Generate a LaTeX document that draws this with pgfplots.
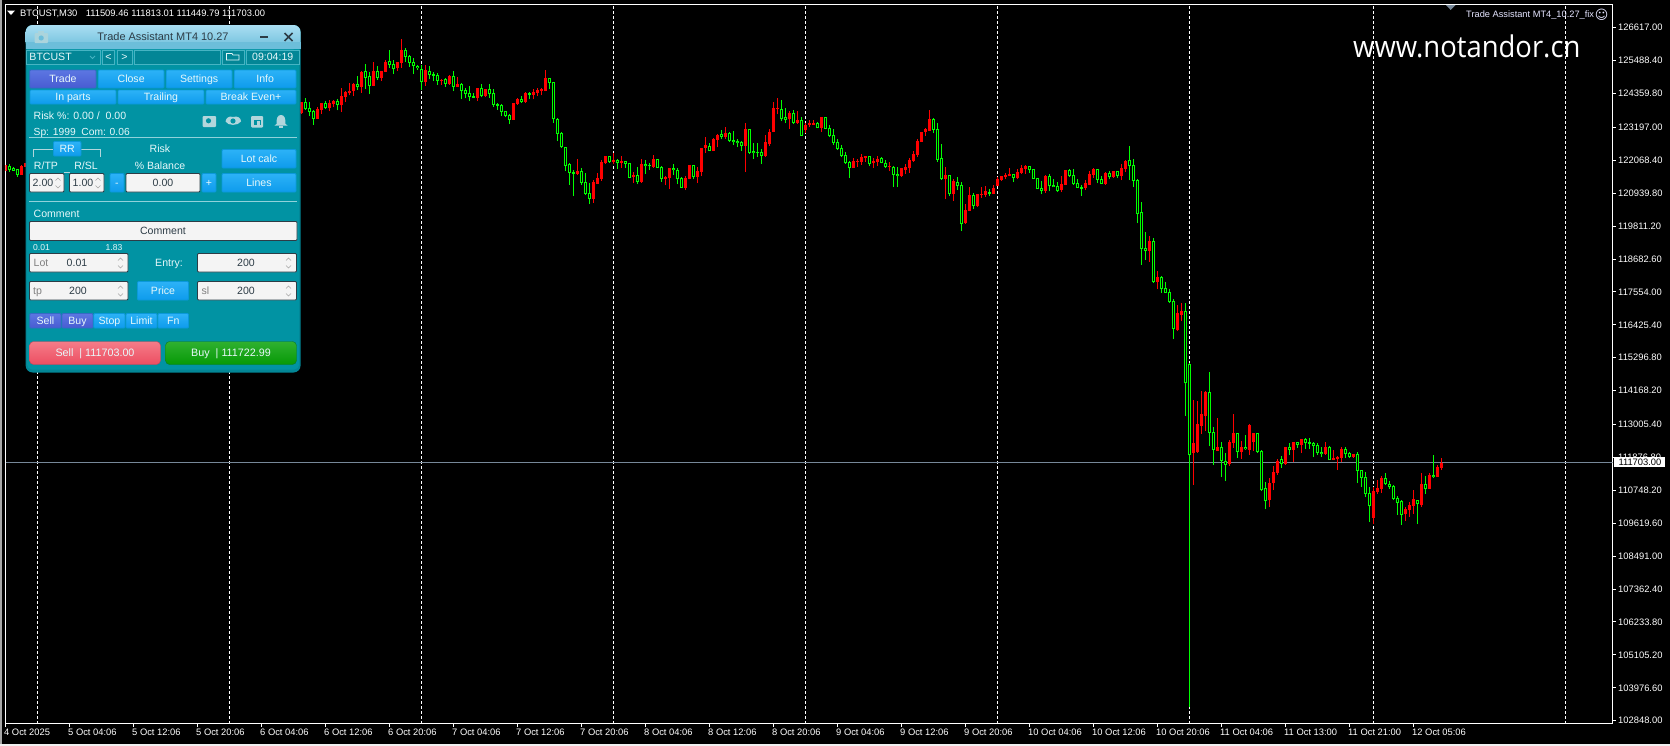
\documentclass[border=0pt]{standalone}
\usepackage{fontspec}
\usepackage{pgfplots}
\usepackage{pgfplotstable}
\pgfplotsset{compat=1.18}
\setmainfont{Liberation Sans}
\newfontfamily\wmfont{Open Sans}
\newfontfamily\dvfont{DejaVu Sans}
\newcommand{\fs}[1]{\fontsize{#1}{#1}\selectfont}

\definecolor{bull}{RGB}{255,0,0}
\definecolor{bear}{RGB}{0,255,0}
\definecolor{bidline}{RGB}{119,136,153}
\definecolor{teal1}{RGB}{1,147,163}
\definecolor{teal2}{RGB}{3,134,150}
\definecolor{teal3}{RGB}{70,180,195}
\definecolor{btnA}{RGB}{44,178,247}
\definecolor{btnB}{RGB}{14,155,236}
\definecolor{purA}{RGB}{92,118,226}
\definecolor{purB}{RGB}{72,92,210}
\definecolor{headA}{RGB}{170,222,242}
\definecolor{headB}{RGB}{108,190,218}
\definecolor{iconc}{RGB}{178,214,220}
\definecolor{fieldc}{RGB}{244,244,244}
\definecolor{edgec}{RGB}{45,60,70}
\definecolor{txtc}{RGB}{232,248,250}

% candles, price per bar: k high bodytop bodybottom low
\pgfplotstableread{
k high top bot low
1 121897 121897 121692 121692
5 121908 121873 121565 121565
6 121986 121986 121849 121849
75 124068 124068 123680 123657
79 123886 123817 123497 123497
80 124034 124023 123794 123657
82 124137 124034 123863 123760
83 124126 124103 124000 123886
85 124537 124274 123954 123725
86 124434 124411 124240 124068
87 124709 124446 124377 124297
88 124709 124686 124446 124274
90 125143 125097 124583 124389
93 125440 125132 124617 124617
95 125120 125120 124892 124789
96 125509 125440 125109 125097
99 125429 125429 125235 125132
100 126229 125852 125418 125246
106 125338 125166 124754 124629
110 124857 124823 124800 124652
112 124983 124960 124686 124663
114 124915 124674 124583 124583
119 124549 124537 124206 124103
121 124526 124503 124263 124240
128 124034 124023 123463 123463
129 124194 124160 124000 123966
131 124400 124366 124068 124034
133 124514 124411 124309 124160
134 124560 124480 124377 124274
135 124537 124503 124446 124297
136 125166 124892 124446 124446
144 122102 121702 121599 121576
148 121393 121313 120753 120616
149 121622 121450 121267 121256
150 122079 122010 121427 121370
151 122216 122216 121965 121942
153 122308 122090 122010 121942
155 122216 122045 121976 121805
158 121656 121565 121496 121302
160 122113 121953 121336 121302
163 122251 122113 121839 121816
166 121519 121485 121427 121210
167 121805 121805 121462 121084
171 121519 121462 121130 121050
172 121908 121908 121427 121427
174 121828 121702 121496 121290
175 122502 122491 121667 121519
176 122868 122594 122491 122319
178 122822 122788 122388 122388
179 122971 122937 122776 122514
181 123211 123005 122857 122799
186 123348 123142 122559 121667
191 122937 122696 122216 122182
192 123142 123039 122628 122559
193 124068 123863 123039 123039
194 124206 123863 123817 123657
197 123760 123691 123485 123142
199 123760 123451 123348 123314
201 123360 123280 123108 123005
202 123440 123348 123280 123211
203 123451 123348 123291 123280
205 123554 123554 123177 123039
213 122148 122045 121805 121805
214 122113 122045 122022 121850
215 122285 122182 122010 121908
216 122216 122205 122148 122010
218 122148 122045 121976 121805
219 122216 122113 122010 121873
222 122010 121873 121839 121702
225 121816 121805 121530 121496
226 121942 121839 121736 121599
227 122148 122079 121805 121633
228 122388 122285 122045 122010
229 122799 122731 122251 122182
230 123040 123040 122697 122697
231 123166 123132 123040 122902
232 123794 123485 123074 123074
236 121839 121565 121427 120741
238 121416 121359 120913 120673
241 120570 120364 119918 119884
242 121153 120879 120330 120330
244 120913 120913 120501 120467
245 121153 120913 120879 120776
246 121187 121016 120879 120810
248 121222 121119 120913 120913
249 121496 121427 121187 121187
250 121530 121530 121393 121359
251 121633 121565 121496 121427
252 121805 121599 121530 121530
254 121770 121667 121462 121427
255 121908 121805 121633 121599
256 121908 121873 121770 121599
261 121565 121530 121016 120947
265 121530 121256 121050 120981
266 121736 121736 121222 121222
271 121393 121290 121119 121050
272 121702 121599 121222 121222
273 121805 121770 121565 121462
276 121667 121633 121256 121222
278 121702 121702 121496 121462
280 121942 121805 121530 121393
281 122079 122045 121770 121667
287 119472 119301 118958 118581
289 118272 118066 117894 117654
294 117106 116831 116248 116214
295 117174 116900 116763 116557
298 113847 112361 112041 110943
299 113813 113024 112075 112041
300 114144 113367 112955 112681
301 114144 114121 113298 112784
304 113230 112224 112098 112098
307 112475 112406 111652 111583
308 113367 112704 112372 112201
310 112441 112235 112064 111823
312 113024 112990 112132 111961
313 112715 112715 112406 112098
317 111172 111000 110417 110177
318 111583 111378 111000 110760
319 111812 111755 111343 111275
321 112235 112235 111652 111618
323 112406 112406 112132 111720
325 112509 112509 112304 112029
331 112406 112235 111995 111961
333 112132 111869 111789 111789
334 111926 111892 111823 111446
335 112235 112166 111858 111720
338 111995 111995 111892 111858
343 110863 110726 109800 109594
344 111103 110829 110691 110623
345 111240 111172 110794 110657
351 110177 110108 109937 109697
352 110348 110246 110074 109834
353 110760 110451 110211 109937
355 111343 110966 110246 110177
357 111343 111275 110794 110794
359 111618 111549 111206 111206
360 111858 111703 111515 111446
}\upbars

\pgfplotstableread{
k high top bot low
2 121932 121884 121736 121668
3 121839 121794 121712 121702
4 121770 121770 121565 121506
76 124194 124068 123817 123794
77 124057 123851 123737 123588
78 123794 123748 123497 123280
81 124103 124023 123863 123840
84 124160 124091 123966 123783
89 124960 124674 124583 124480
91 125372 125120 124892 124514
92 125109 124960 124629 124343
94 125303 125120 124892 124823
97 125852 125463 125349 125235
98 125509 125372 125212 125029
101 125909 125852 125623 125440
102 125681 125646 125418 125280
103 125566 125429 125315 125029
104 125349 125315 125235 125166
105 125338 125189 124766 124480
107 125303 125120 125006 124846
108 125109 125029 124972 124789
109 125075 124995 124789 124652
111 124903 124846 124697 124594
113 125132 124949 124594 124446
115 124732 124674 124446 124171
116 124560 124469 124354 124194
117 124617 124366 124240 124114
118 124366 124274 124217 124206
120 124674 124537 124286 124229
122 124674 124503 124354 124206
123 124503 124366 123966 123897
124 124046 123988 123931 123805
125 123988 123954 123737 123588
126 123771 123748 123600 123543
127 123657 123611 123463 123314
130 124274 124160 124068 124046
132 124423 124366 124320 124183
137 124892 124880 124732 124514
138 124754 124743 123474 123360
139 123508 123474 122982 122731
140 123051 122994 122514 122491
141 122514 122514 121885 121702
142 121965 121931 121645 121222
143 121736 121656 121610 120844
145 121793 121690 121302 121222
146 121622 121313 120924 120879
147 121302 120936 120753 120570
152 122216 122205 122010 121988
154 122102 122068 121976 121770
156 122045 122033 121953 121805
157 121976 121965 121473 121462
159 121828 121553 121336 121256
161 122079 121942 121873 121599
162 121965 121908 121873 121736
164 122113 122102 121816 121805
165 121873 121839 121439 121325
168 121942 121805 121736 121565
169 121805 121736 121427 121256
170 121507 121462 121130 121119
173 121908 121896 121496 121427
177 122651 122559 122399 122388
180 123108 122971 122868 122799
182 123028 123005 122731 122696
183 123074 122765 122696 122594
184 122799 122731 122662 122525
185 122731 122696 122559 122388
187 123142 123131 122331 122285
188 122662 122388 122319 122113
189 122662 122365 122319 122182
190 122456 122353 122216 121942
195 124137 123828 123485 123417
196 123851 123554 123451 123348
198 123794 123691 123348 123314
200 123554 123451 122902 122902
204 123382 123348 123177 123165
206 123554 123543 123142 123142
207 123268 123177 122902 122868
208 123142 122937 122662 122594
209 122799 122696 122456 122422
210 122594 122491 122216 122182
211 122342 122251 121976 121942
212 122033 122010 121805 121462
217 122216 122216 121942 121873
220 122182 122148 121976 121965
221 122079 121976 121839 121805
223 121873 121828 121565 121153
224 121839 121599 121530 121153
233 123520 123485 123108 123005
234 123348 123142 122079 122010
235 122628 122136 121427 121393
237 121565 121553 120913 120844
239 121496 121324 121199 121050
240 121324 121222 119884 119644
243 120947 120879 120501 120398
247 121084 120981 120924 120844
253 121599 121587 121462 121324
257 121873 121862 121736 121633
258 121770 121759 121427 121427
259 121462 121450 121084 121084
260 121359 121119 121016 120913
262 121599 121530 121187 121016
263 121427 121222 121153 121153
264 121324 121187 121016 120981
267 121770 121736 121530 121496
268 121770 121565 121256 121222
269 121427 121290 121119 121119
270 121222 121153 121096 120844
274 121770 121759 121393 121290
275 121530 121427 121256 121256
277 121702 121633 121496 121427
279 121702 121702 121530 121462
282 122559 122079 121873 121393
283 122113 121908 121359 121153
284 121427 121393 120227 119918
285 120638 120295 119026 118478
286 119610 119061 118958 118649
288 119404 119301 117894 117860
290 118100 118066 117654 117517
291 117894 117689 117517 117517
292 117654 117552 117209 117174
293 117311 117243 116283 115939
296 117174 116900 114419 113310
297 115110 115082 111949 103307
302 114807 114110 112715 112269
303 112910 112738 112132 111618
305 112395 112224 111755 111206
306 112029 111755 111618 111069
309 112715 112704 112064 111858
311 112647 112235 112155 112132
314 112715 112704 112064 112029
315 112132 112086 110760 110726
316 111035 110817 110383 110108
320 111926 111823 111652 111515
322 112372 112235 112132 111961
324 112406 112395 112304 112201
326 112544 112509 112372 112166
327 112544 112406 112338 112166
328 112406 112372 112269 111892
329 112372 112304 112029 111961
330 112235 112064 111995 111892
332 112269 112235 111789 111789
336 112235 112166 111995 111858
337 112064 112029 111892 111858
339 112064 111995 111412 111000
340 111446 111446 111172 110863
341 111378 111206 110623 110520
342 110863 110657 110211 109663
346 111343 111172 110966 110932
347 111069 110966 110863 110794
348 110932 110897 110451 110417
349 110554 110486 110314 109903
350 110417 110383 109903 109560
354 110417 110417 110280 109594
356 111240 110966 110794 110623
358 111961 111275 111206 111172
}\bearbars

% vertical segment from one column up by a second expression
\pgfplotsset{
  seg/.style 2 args={draw=none, mark=none, forget plot,
    error bars/.cd, y dir=plus, y explicit, error mark=none,
    error bar style={draw=#1, solid, line width=#2}},
}

% panel helpers, in picture pixels
\tikzset{lb/.style={inner sep=0pt, text height=7.6bp, text depth=0pt, text=txtc, font=\fs{10.6}}}
\newcommand{\btn}[7]{%
  \shade[top color=#6, bottom color=#7, draw=#7!75!teal1, line width=.8bp, rounded corners=1bp] (#1,#2) rectangle (#3,#4);
  \node[lb] at ({(#1+#3)/2},{(#2+#4)/2}) {#5};}
\newcommand{\field}[4]{%
  \draw[fill=fieldc, draw=edgec, line width=.9bp, rounded corners=1bp] (#1,#2) rectangle (#3,#4);}
\newcommand{\spin}[2]{%
  \draw[gray!70, line width=.7bp] (#1-2.5,#2-2.5) -- (#1,#2-5) -- (#1+2.5,#2-2.5);
  \draw[gray!70, line width=.7bp] (#1-2.5,#2+2.5) -- (#1,#2+5) -- (#1+2.5,#2+2.5);}
\newcommand{\dk}[3]{\node[lb, text=edgec] at (#1,#2) {#3};}
\newcommand{\lt}[3]{\node[lb, anchor=base west, text depth=0pt] at (#1,#2) {#3};}

\begin{document}
\begin{tikzpicture}
\fill[black, use as bounding box] (0,0) rectangle (1670bp,-746bp);
\begin{axis}[
  at={(5.5bp,-723.5bp)}, anchor=south west,
  scale only axis, width=1607bp, height=719bp,
  xmin=1, xmax=402.75, ymin=102751, ymax=127413,
  axis background/.style={fill=black},
  axis line style={white, line width=1bp},
  tick style={white, line width=1bp},
  major tick length=3bp,
  tick align=outside,
  xtick pos=bottom, ytick pos=right,
  font=\fs{9.4},
  /pgf/number format/assume math mode=true,
  xtick={1,17,33,49,65,81,97,113,129,145,161,177,193,209,225,241,257,273,289,305,321,337,353},
  xticklabels={4 Oct 2025,5 Oct 04:06,5 Oct 12:06,5 Oct 20:06,6 Oct 04:06,6 Oct 12:06,6 Oct 20:06,
    7 Oct 04:06,7 Oct 12:06,7 Oct 20:06,8 Oct 04:06,8 Oct 12:06,8 Oct 20:06,9 Oct 04:06,9 Oct 12:06,
    9 Oct 20:06,10 Oct 04:06,10 Oct 12:06,10 Oct 20:06,11 Oct 04:06,11 Oct 13:00,11 Oct 21:00,12 Oct 05:06},
  xticklabel style={white, anchor=north west, inner sep=0pt, xshift=-1.5bp, yshift=-2.5bp},
  ytick={126617,125488.4,124359.8,123197,122068.4,120939.8,119811.2,118682.6,117554,116425.4,115296.8,114168.2,113005.4,111876.8,110748.2,109619.6,108491,107362.4,106233.8,105105.2,103976.6,102848},
  yticklabel style={white, anchor=west, inner sep=0pt, xshift=2.5bp,
    /pgf/number format/.cd, fixed, fixed zerofill, precision=2, 1000 sep={}},
  scaled y ticks=false,
  extra x ticks={9,57,105,153,201,249,297,343,391},
  extra x tick labels={},
  extra x tick style={grid=major, major tick length=0pt,
    major grid style={white, line width=1bp, dash pattern=on 3bp off 2bp}},
]
\addplot[bidline, line width=1bp, forget plot] coordinates {(1,111703)(402.75,111703)};
% bull candles, solid
\addplot[seg={bull}{1bp}] table[x=k, y=low, y error expr=\thisrow{high}-\thisrow{low}] {\upbars};
\addplot[seg={bull}{3bp}] table[x=k, y=bot, y error expr=\thisrow{top}-\thisrow{bot}] {\upbars};
% bear candles, outlined
\addplot[seg={bear}{1bp}] table[x=k, y=low, y error expr=\thisrow{high}-\thisrow{low}] {\bearbars};
\addplot[seg={bear}{3bp}] table[x=k, y=bot, y error expr=\thisrow{top}-\thisrow{bot}] {\bearbars};
\addplot[seg={black}{1bp}] table[x=k, y expr=\thisrow{bot}+34.3, y error expr={max(\thisrow{top}-\thisrow{bot}-68.6,0)}] {\bearbars};
\end{axis}

\begin{scope}[x=1bp, y=-1bp]
% window edge
\fill[gray!70] (0,0) rectangle (1.6,746);
\fill[white!94!black] (0,743.7) rectangle (1670,746);
% chart labels
\fill[white] (7,10.5) -- (15,10.5) -- (11,15) -- cycle;
\node[anchor=base west, inner sep=0pt, white, font=\fs{9.4}] at (20,16.2) {BTCUST,M30};
\node[anchor=base west, inner sep=0pt, white, font=\fs{9.4}] at (85.6,16.2) {111509.46 111813.01 111449.79 111703.00};
\fill[bidline] (1446,5) -- (1455.5,5) -- (1450.7,10) -- cycle;
\node[anchor=base west, inner sep=0pt, text=blue!10!white, font=\fs{9.3}] at (1466,17.6) {Trade Assistant MT4\_10.27\_fix};
\node[inner sep=0pt, text=blue!10!white, font=\dvfont\fs{13}] at (1601.5,14.5) {☺};
\node[anchor=base west, inner sep=0pt, white, xscale=.918, font=\wmfont\fs{30}] at (1353,57) {www.notandor.cn};
% bid price box
\fill[white] (1614,456.7) rectangle (1665,466.7);
\node[anchor=west, inner sep=0pt, black, font=\fs{9.4}] at (1618.3,461.8) {111703.00};

% panel
\fill[teal2, rounded corners=7bp] (25.6,25) rectangle (300.6,372.5);
\fill[teal1, rounded corners=5bp] (27,40) rectangle (299.2,369.5);
\shade[top color=headA, bottom color=headB, rounded corners=7bp] (25.6,25) rectangle (300.6,49);
\fill[headB] (25.6,42) rectangle (300.6,49);
% title bar
\fill[iconc!90!headB, rounded corners=1bp] (34.5,33) rectangle (48,43);
\fill[iconc!90!headB] (38,31) rectangle (44,34);
\fill[headB] (41.2,38) circle (2.6);
\node[lb, text=edgec, font=\fs{11}] at (163,37) {Trade Assistant MT4 10.27};
\fill[edgec] (260,36) rectangle (268,38);
\draw[edgec, line width=1.5bp] (284.5,33) -- (292.5,41) (292.5,33) -- (284.5,41);
% second row
\draw[fill=teal2, draw=teal3, line width=.7bp] (26.5,50.5) rectangle (100,64);
\node[lb, anchor=base west] at (29.3,60.4) {BTCUST};
\draw[teal3, line width=.8bp] (90,56) -- (92.5,58.5) -- (95,56);
\draw[fill=teal2, draw=teal3, line width=.7bp] (102.5,50.5) rectangle (114.5,64);
\node[lb] at (108.5,57) {<};
\draw[fill=teal2, draw=teal3, line width=.7bp] (117.5,50.5) rectangle (132,64);
\node[lb] at (124.5,57) {>};
\draw[fill=teal2, draw=teal3, line width=.7bp] (134.5,50.5) rectangle (220,64);
\draw[fill=teal2, draw=teal3, line width=.7bp] (222.5,50.5) rectangle (244,64);
\draw[txtc, line width=.7bp] (226.5,60) -- (226.5,53.5) -- (232,53.5) -- (233,55) -- (239,55) -- (239,60) -- cycle;
\draw[fill=teal2, draw=teal3, line width=.7bp] (246.5,50.5) rectangle (299,64);
\node[lb] at (272.7,57) {09:04:19};
% tabs
\btn{29.8}{70}{96}{88}{Trade}{purA}{purB}
\btn{98.3}{70}{164}{88}{Close}{btnA}{btnB}
\btn{166.3}{70}{232}{88}{Settings}{btnA}{btnB}
\btn{234.3}{70}{296}{88}{Info}{btnA}{btnB}
\btn{30}{90}{116}{104}{In parts}{btnA}{btnB}
\btn{118}{90}{204}{104}{Trailing}{btnA}{btnB}
\btn{206}{90}{296}{104}{Break Even+}{btnA}{btnB}
% risk lines
\lt{33.5}{119}{Risk \%: 0.00 /\ \ 0.00}
\lt{33.5}{135}{\fs{10.3}Sp: 1999\ \ Com: 0.06}
% icons
\fill[iconc, rounded corners=1bp] (202.5,116) rectangle (216,127);
\fill[teal1] (208.5,120.8) circle (2.6);
\fill[iconc] (233,117) .. controls (238,115.5) and (241,118) .. (241,121.5) .. controls (238,126) and (228,126) .. (225.5,121.5) .. controls (226,118) and (229,115.5) .. (233,117);
\fill[teal1] (233,121) circle (2.6);
\fill[iconc, rounded corners=1bp] (251,116) rectangle (263,127.5);
\fill[teal1] (253.5,119.5) rectangle (260.5,125);
\fill[iconc] (256.5,121) rectangle (260,124.5);
\fill[iconc] (281,115) .. controls (284.5,115) and (285.5,118) .. (285.5,124) -- (287.5,125.5) -- (274.5,125.5) -- (276.5,124) .. controls (276.5,118) and (277.5,115) .. (281,115);
\fill[iconc] (279,126) rectangle (283,128);
\draw[teal3!60!white, line width=.8bp] (29,137.5) -- (297,137.5);
% RR block
\draw[iconc, line width=.7bp] (33.5,156.5) -- (33.5,149.5) -- (53,149.5) (81,149.5) -- (100.5,149.5) -- (100.5,156.5);
\btn{53.5}{141.5}{81}{156}{RR}{btnA}{btnB}
\node[lb] at (46,165.5) {R/TP};
\node[lb] at (86,165.5) {R/SL};
\draw[iconc, line width=.7bp] (64,172.5) -- (70,172.5);
\node[lb] at (160,149) {Risk};
\node[lb] at (160,165.5) {\% Balance};
\field{29.5}{173.5}{64}{192}
\dk{43}{183}{2.00}
\spin{58}{183}
\field{69.5}{173.5}{104}{192}
\dk{83}{183}{1.00}
\spin{98}{183}
\btn{110}{173.5}{124}{192}{-}{btnA}{btnB}
\field{126}{173.5}{200}{192}
\dk{163}{183}{0.00}
\btn{202}{173.5}{216}{192}{+}{btnA}{btnB}
\btn{222}{149.5}{296}{168}{Lot calc}{btnA}{btnB}
\btn{222}{173.5}{296}{192}{Lines}{btnA}{btnB}
\draw[teal3!60!white, line width=.8bp] (29,201.5) -- (297,201.5);
% entry block
\lt{33.5}{217}{Comment}
\field{29.5}{221.5}{297}{240.5}
\dk{163}{231}{Comment}
\node[lb, font=\fs{8.6}] at (41.5,246.8) {0.01};
\node[lb, font=\fs{8.6}] at (114,246.8) {1.83};
\field{29.5}{253.5}{128}{272}
\node[lb, text=gray] at (41,262.5) {Lot};
\dk{77}{263}{0.01}
\spin{120.5}{263}
\node[lb] at (169,263) {Entry:};
\field{197.5}{253.5}{296.5}{272}
\dk{246}{263}{200}
\spin{288.5}{263}
\field{29.5}{281.5}{128}{300}
\node[lb, text=gray] at (37.5,291) {tp};
\dk{78}{291}{200}
\spin{120.5}{291}
\btn{137.5}{281.5}{188.5}{300}{Price}{btnA}{btnB}
\field{197.5}{281.5}{296.5}{300}
\node[lb, text=gray] at (205.5,291) {sl};
\dk{246}{291}{200}
\spin{288.5}{291}
% order mode row
\btn{29.8}{313.5}{61}{328}{Sell}{purA}{purB}
\btn{62}{313.5}{93}{328}{Buy}{purA}{purB}
\btn{93.8}{313.5}{125}{328}{Stop}{btnA}{btnB}
\btn{126}{313.5}{157}{328}{Limit}{btnA}{btnB}
\btn{158}{313.5}{188.5}{328}{Fn}{btnA}{btnB}
% order buttons
\shade[top color={rgb,255:red,245;green,124;blue,136}, bottom color={rgb,255:red,236;green,78;blue,98}, rounded corners=4bp, draw={rgb,255:red,190;green,70;blue,90}] (29.5,341.5) rectangle (160.5,364.5);
\node[lb, font=\fs{10.8}] at (95,352.5) {Sell\ \ | 111703.00};
\shade[top color={rgb,255:red,48;green,176;blue,48}, bottom color={rgb,255:red,6;green,154;blue,6}, rounded corners=4bp, draw={rgb,255:red,10;green,120;blue,40}] (165.5,341.5) rectangle (296.5,364.5);
\node[lb, font=\fs{10.8}] at (231,352.5) {Buy\ \ | 111722.99};
\end{scope}
\end{tikzpicture}
\end{document}
